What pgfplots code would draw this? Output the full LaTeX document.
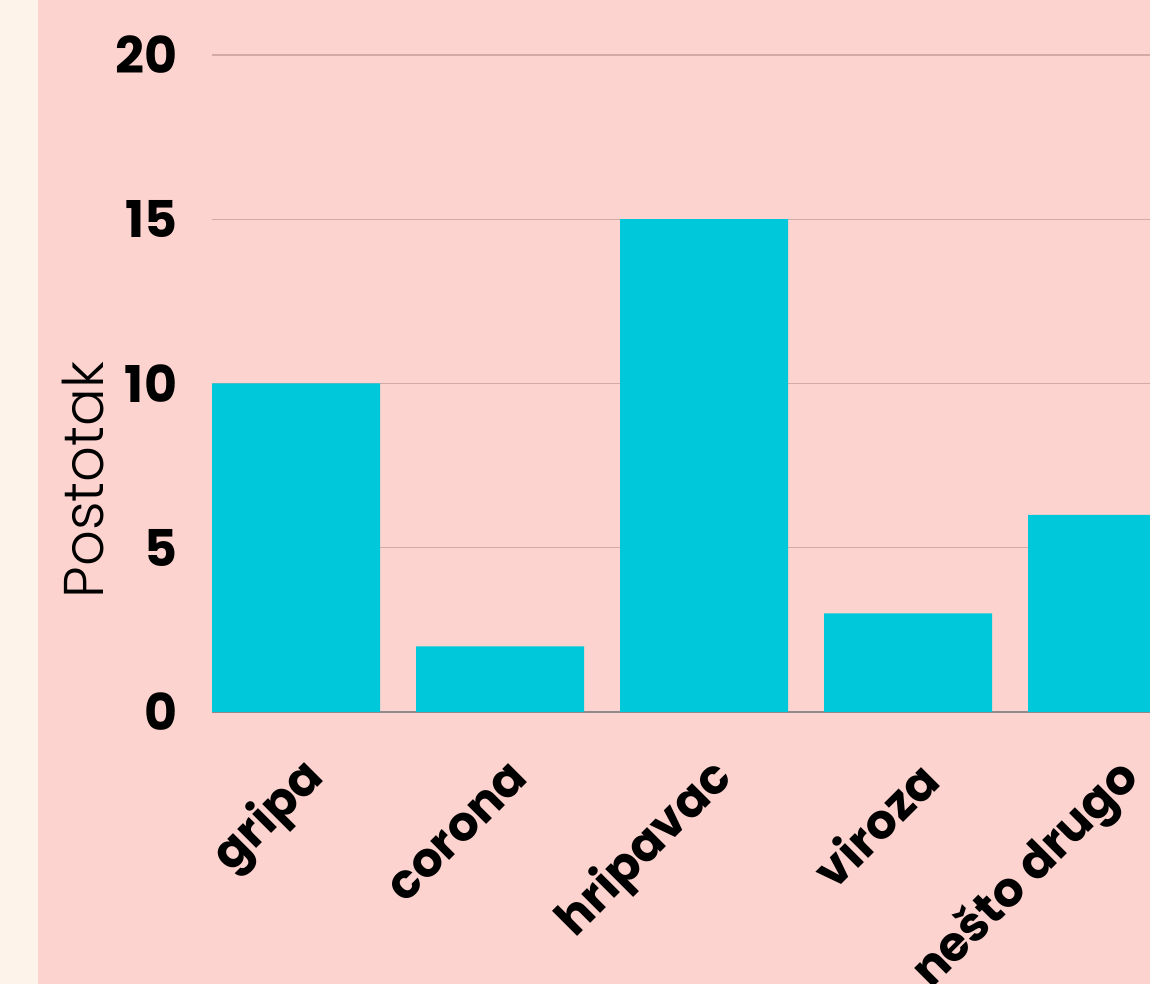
\documentclass[border=0pt]{standalone}
\usepackage{pgfplots}
\pgfplotsset{compat=1.18}
\usepackage{fontspec}
\setmainfont{Poppins}
\newfontfamily\lightfont{Poppins Light}
\definecolor{cream}{HTML}{FDF3EA}
\definecolor{bgpink}{HTML}{FDD3CF}
\definecolor{barcyan}{HTML}{00C8DB}
\definecolor{gridc}{HTML}{D4AAA7}
\definecolor{axisc}{HTML}{8F8A89}
\begin{document}
\begin{tikzpicture}
\path[use as bounding box, clip] (0,0) rectangle (862.5pt,738pt);
\fill[cream] (0,0) rectangle (862.5pt,738pt);
\fill[bgpink] (28.5pt,0) rectangle (862.5pt,738pt);
\begin{axis}[
    at={(159pt,204pt)}, anchor=south west,
    width=703.5pt, height=492.75pt, scale only axis,
    ybar, bar width=126pt,
    xmin=-0.4118, xmax=4.186, ymin=0, ymax=20,
    xtick={0,1,2,3,4},
    xticklabels={gripa,corona,hripavac,viroza,nešto drugo},
    ytick={5,10,15,20},
    extra y ticks={0}, extra y tick labels={0},
    extra y tick style={grid style={draw=axisc, line width=1pt}},
    ymajorgrids, grid style={draw=gridc, line width=0.8pt},
    major tick length=0pt,
    axis line style={draw=none},
    /pgf/number format/assume math mode=true,
    ticklabel style={font=\fontsize{38}{40}\selectfont\bfseries, text=black},
    yticklabel style={anchor=east, inner sep=0pt, xshift=-26pt},
    xticklabel style={rotate=45, anchor=east, inner sep=0pt, xshift=-20pt, yshift=-42pt,
        font=\fontsize{36}{38}\selectfont\bfseries},
    ylabel={Postotak},
    ylabel style={at={(axis description cs:-0.1375,0.353)}, anchor=center, rotate=0, font=\lightfont\fontsize{42}{44}\selectfont},
]
\addplot[fill=barcyan, draw=none] coordinates {(0,10) (1,2) (2,15) (3,3) (4,6)};
\end{axis}
\end{tikzpicture}
\end{document}
